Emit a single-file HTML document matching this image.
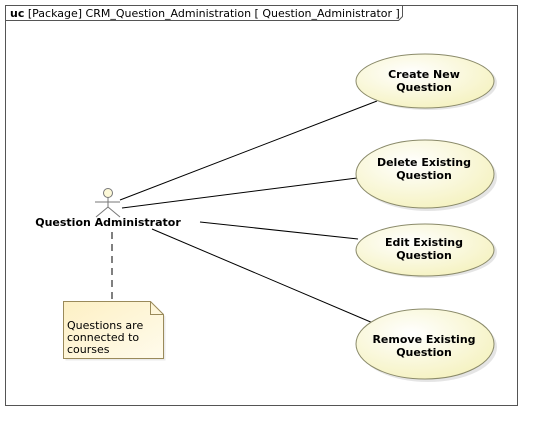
<!DOCTYPE html>
<html><head><style>
body{margin:0;background:#fff;}
svg text{font-family:"DejaVu Sans","Liberation Sans",sans-serif;}
</style></head><body>
<svg width="542" height="429" viewBox="0 0 542 429" xmlns="http://www.w3.org/2000/svg">
<defs>
<radialGradient id="g" cx="0.4" cy="0.35" r="0.7"><stop offset="0" stop-color="#ffffff"/><stop offset="1" stop-color="#f5f2c0"/></radialGradient>
<linearGradient id="n" x1="0" y1="0" x2="1" y2="1"><stop offset="0" stop-color="#fdf0c4"/><stop offset="1" stop-color="#fffbec"/></linearGradient>
</defs>
<rect x="5.5" y="5.5" width="512" height="400" fill="#fff" stroke="#555"/>
<path d="M5.5 20.5 H398.5 L402.5 16.5 V5.5" fill="none" stroke="#555"/>
<text x="10" y="17" font-size="11" fill="#000"><tspan font-weight="bold">uc</tspan> [Package] CRM_Question_Administration [ Question_Administrator ]</text>
<g stroke="#000" stroke-width="1">
<line x1="120" y1="200" x2="377" y2="101"/>
<line x1="122" y1="208" x2="357" y2="178"/>
<line x1="200" y1="222" x2="358" y2="239"/>
<line x1="152" y1="229" x2="373" y2="323"/>
<line x1="112" y1="232" x2="112" y2="301" stroke-dasharray="7,5"/>
</g>
<g stroke="#8a8a6a" fill="url(#g)">
<ellipse cx="428" cy="83" rx="69" ry="27" fill="#ccc" stroke="none" opacity="0.5"/>
<ellipse cx="425" cy="81" rx="69" ry="27"/>
<ellipse cx="428" cy="177" rx="69" ry="34" fill="#ccc" stroke="none" opacity="0.5"/>
<ellipse cx="425" cy="174" rx="69" ry="34"/>
<ellipse cx="428" cy="252" rx="69" ry="26" fill="#ccc" stroke="none" opacity="0.5"/>
<ellipse cx="425" cy="250" rx="69" ry="26"/>
<ellipse cx="428" cy="347" rx="69" ry="35" fill="#ccc" stroke="none" opacity="0.5"/>
<ellipse cx="425" cy="344" rx="69" ry="35"/>
</g>
<g font-size="11" font-weight="bold" text-anchor="middle" fill="#000">
<text x="424" y="78">Create New</text><text x="424" y="91">Question</text>
<text x="424" y="166">Delete Existing</text><text x="424" y="179">Question</text>
<text x="424" y="246">Edit Existing</text><text x="424" y="259">Question</text>
<text x="424" y="343">Remove Existing</text><text x="424" y="356">Question</text>
</g>
<g stroke="#777" fill="none">
<circle cx="108" cy="193" r="4.5" fill="#fdf9d8"/>
<line x1="108" y1="197" x2="108" y2="207"/>
<line x1="95" y1="202" x2="120" y2="202"/>
<line x1="108" y1="207" x2="96" y2="217"/>
<line x1="108" y1="207" x2="120" y2="217"/>
</g>
<text x="108" y="226" font-size="11" font-weight="bold" text-anchor="middle">Question Administrator</text>
<path d="M65.5 303.5 H152.5 L165.5 316.5 V360.5 H65.5 Z" fill="#ddd" stroke="none" opacity="0.6"/>
<path d="M63.5 301.5 H150.5 L163.5 314.5 V358.5 H63.5 Z" fill="url(#n)" stroke="#9a8a5a"/>
<path d="M150.5 301.5 V314.5 H163.5" fill="none" stroke="#9a8a5a"/>
<g font-size="11" fill="#000">
<text x="67" y="329">Questions are</text>
<text x="67" y="341">connected to</text>
<text x="67" y="353">courses</text>
</g>
</svg>
</body></html>
